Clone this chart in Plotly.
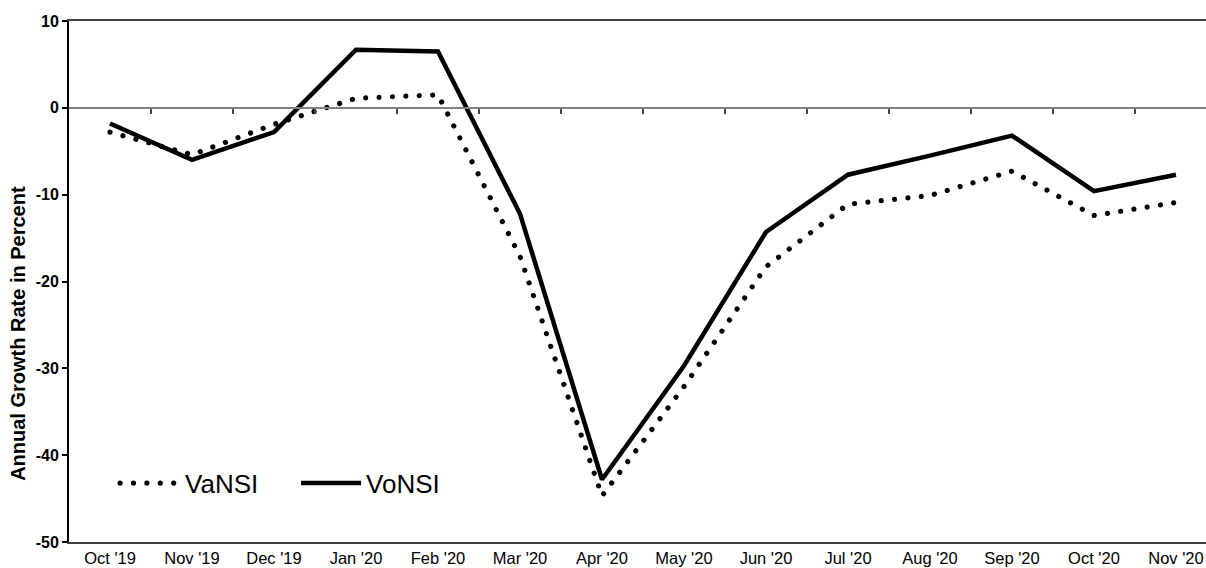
import plotly.graph_objects as go

categories = ["Oct '19", "Nov '19", "Dec '19", "Jan '20", "Feb '20", "Mar '20", "Apr '20",
              "May '20", "Jun '20", "Jul '20", "Aug '20", "Sep '20", "Oct '20", "Nov '20"]
vansi = [-2.8, -5.4, -1.9, 1.1, 1.5, -17.1, -44.7, -32.1, -18.3, -11.1, -10.1, -7.3, -12.4, -10.9]
vonsi = [-1.8, -6.0, -2.8, 6.7, 6.5, -12.2, -42.8, -29.7, -14.3, -7.7, -5.5, -3.2, -9.6, -7.7]
y_ticks = [10, 0, -10, -20, -30, -40, -50]
y_ticklabels = ["10", "0", "-10", "-20", "-30", "-40", "-50"]
boundaries = [i + 0.5 for i in range(len(categories) - 1)]

FONT = "Liberation Sans, Arial, sans-serif"
xr = [-0.5, 13.366]

fig = go.Figure()
fig.add_trace(go.Scatter(x=categories, y=vansi, name="VaNSI", mode="lines",
                         line=dict(color="black", width=5, dash="5px,8.4px")))
fig.add_trace(go.Scatter(x=categories, y=vonsi, name="VoNSI", mode="lines",
                         line=dict(color="black", width=4.5)))
fig.add_trace(go.Scatter(x=[0], y=[None], xaxis="x2", showlegend=False, hoverinfo="skip"))

fig.update_layout(
    width=1206, height=568,
    margin=dict(l=69, r=0, t=21, b=26, autoexpand=False),
    paper_bgcolor="white", plot_bgcolor="white",
    font=dict(family=FONT, color="black"),
    xaxis=dict(type="category", range=xr, showline=True, linecolor="#404040", linewidth=2,
               mirror=True, ticks="", showgrid=False, zeroline=False, automargin=False,
               ticklabelstandoff=0,
               tickfont=dict(size=16.5, family=FONT, color="black")),
    xaxis2=dict(type="linear", range=xr, overlaying="x", anchor="free", position=50 / 60,
                side="bottom", showline=True, linecolor="#808080", linewidth=2,
                ticks="outside", tickvals=boundaries, ticklen=5, tickwidth=1.5, tickcolor="#404040",
                showticklabels=False, showgrid=False, zeroline=False, automargin=False),
    yaxis=dict(range=[-50, 10], tickvals=y_ticks, ticktext=y_ticklabels,
               showline=True, linecolor="black", linewidth=2,
               ticks="outside", ticklen=5, tickwidth=1.5, tickcolor="black",
               showgrid=False, zeroline=False, automargin=False,
               tickfont=dict(size=16, family=FONT, color="black", weight="bold")),
    legend=dict(orientation="h", x=0.0405, y=0.113, xanchor="left", yanchor="middle",
                bgcolor="rgba(0,0,0,0)", font=dict(size=26, family=FONT, color="black"),
                itemwidth=60, entrywidth=106),
    showlegend=True,
)
fig.add_annotation(text="Annual Growth Rate in Percent", xref="paper", yref="paper",
                   x=-0.0455, y=0.40, textangle=-90, showarrow=False,
                   font=dict(size=20, family=FONT, color="black", weight="bold"),
                   xanchor="center", yanchor="middle")

post = """
document.body.style.margin='0';
document.body.style.overflow='hidden';
var gd = document.getElementById('{plot_id}');
function roundDots() {
  var sel = [];
  var tr = gd.querySelectorAll('.scatterlayer .trace');
  if (tr.length) { sel = sel.concat(Array.from(tr[0].querySelectorAll('path.js-line'))); }
  var lg = gd.querySelectorAll('.legend .traces');
  if (lg.length) { sel = sel.concat(Array.from(lg[0].querySelectorAll('path.js-line'))); }
  sel.forEach(function(p) {
    p.style.strokeLinecap = 'round';
    p.style.strokeDasharray = '0.01px,13.4px';
    p.style.strokeWidth = '5.2px';
  });
}
roundDots();
gd.on('plotly_afterplot', roundDots);
"""

fig.write_html("out.html", post_script=post, config={"displayModeBar": False})
